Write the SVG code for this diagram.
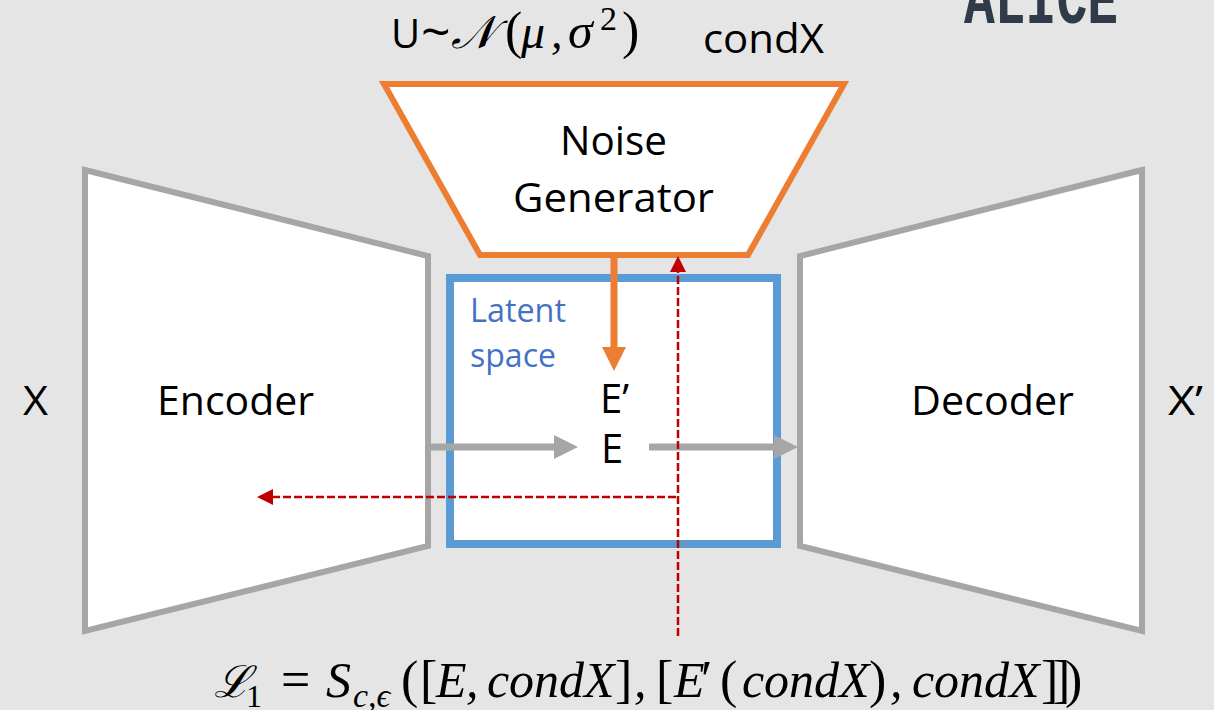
<svg xmlns="http://www.w3.org/2000/svg" width="1214" height="710" viewBox="0 0 1214 710">
<style>
.t{font-family:"Open Sans","Noto Sans",sans-serif;font-size:40px;fill:#000}
.m{font-family:"Liberation Serif","DejaVu Serif",serif;font-style:italic;fill:#000;font-size:50px}
.n{font-family:"Liberation Serif","DejaVu Serif",serif;font-style:normal;fill:#000;font-size:52px}
.b{font-family:"Open Sans","Noto Sans",sans-serif;font-size:32px;fill:#4472c4}
.g{fill:#fff;stroke:#a6a6a6;stroke-width:6}
.lg{stroke:#a6a6a6;stroke-width:7;fill:none}
.r{stroke:#c00000;stroke-width:2.5;stroke-dasharray:8 3;fill:none}
</style>
<defs>
<marker id="ag" markerUnits="userSpaceOnUse" markerWidth="24" markerHeight="24" refX="0" refY="12" orient="auto"><path d="M0 0L24 12L0 24Z" fill="#a6a6a6"/></marker>
<marker id="ao" markerUnits="userSpaceOnUse" markerWidth="24" markerHeight="24" refX="0" refY="12" orient="auto"><path d="M0 0L24 12L0 24Z" fill="#ed7d31"/></marker>
<marker id="ar" markerUnits="userSpaceOnUse" markerWidth="16" markerHeight="16" refX="0" refY="8" orient="auto"><path d="M0 0L16 8L0 16Z" fill="#c00000"/></marker>
</defs>
<rect width="1214" height="710" fill="#e5e5e5"/>
<text transform="translate(964 23) scale(1 1.4)" font-family="Liberation Mono,monospace" font-weight="700" font-size="51" fill="#2f3b48" textLength="154" lengthAdjust="spacingAndGlyphs">ALICE</text>
<g id="encoder"><path class="g" d="M85 170L428 256V546L85 631Z"/><text class="t" x="157" y="415" textLength="157" lengthAdjust="spacingAndGlyphs">Encoder</text></g>
<g id="decoder"><path class="g" d="M1142 170L800 256V546L1142 631Z"/><text class="t" x="911" y="415" textLength="163" lengthAdjust="spacingAndGlyphs">Decoder</text></g>
<g id="latent"><rect x="450" y="278" width="327" height="266" fill="#fff" stroke="#5b9bd5" stroke-width="8"/>
<text class="b" x="470" y="322" textLength="96" lengthAdjust="spacingAndGlyphs">Latent</text>
<text class="b" x="470" y="367" textLength="86" lengthAdjust="spacingAndGlyphs">space</text></g>
<g id="noise"><path d="M384 84H844L748 255H480Z" fill="#fff" stroke="#ed7d31" stroke-width="6"/>
<text class="t" x="560" y="155" textLength="107" lengthAdjust="spacingAndGlyphs">Noise</text><text class="t" x="513" y="212" textLength="201" lengthAdjust="spacingAndGlyphs">Generator</text></g>
<g id="connectors">
<path class="lg" d="M428 447H554" marker-end="url(#ag)"/>
<path class="lg" d="M649 447H774" marker-end="url(#ag)"/>
<path d="M614 257V347" stroke="#ed7d31" stroke-width="7" fill="none" marker-end="url(#ao)"/>
<path class="r" d="M678 636V272" marker-end="url(#ar)"/>
<path class="r" d="M676 497H273" marker-end="url(#ar)"/>
</g>
<g id="labels">
<text class="t" x="23" y="415" textLength="25" lengthAdjust="spacingAndGlyphs">X</text><text class="t" x="1168" y="415" textLength="35" lengthAdjust="spacingAndGlyphs">X’</text>
<text class="t" x="600" y="413">E’</text><text class="t" x="601" y="463">E</text>
<text class="t" x="703" y="53" textLength="121" lengthAdjust="spacingAndGlyphs">condX</text>
<text class="m" y="48"><tspan class="t" x="391" style="font-style:normal">U</tspan><tspan class="t" x="421" y="50" style="font-style:normal;font-size:52px">~</tspan><tspan x="451" y="48" style="font-size:46px">𝒩</tspan><tspan class="n" x="505">(</tspan><tspan x="521" style="font-size:48px">μ</tspan><tspan x="551" style="font-size:46px">,</tspan><tspan x="568" style="font-size:50px">σ</tspan><tspan class="n" x="600" y="30" style="font-size:34px">2</tspan><tspan class="n" x="622" y="48">)</tspan></text>
<text class="m" y="697" id="formula"><tspan x="214" style="font-size:44px">ℒ</tspan><tspan class="n" x="246" y="707" style="font-size:32px">1</tspan><tspan class="n" x="281" y="697">=</tspan><tspan x="326">S</tspan><tspan x="353" y="707" style="font-size:34px">c,ϵ</tspan><tspan class="n" x="401" y="697">(</tspan><tspan class="n" x="420">[</tspan><tspan x="436">E</tspan><tspan x="466">,</tspan><tspan x="487 509 534 559 584">condX</tspan><tspan class="n" x="615">]</tspan><tspan x="634">,</tspan><tspan class="n" x="656">[</tspan><tspan x="674">E</tspan><tspan class="n" x="701">′</tspan><tspan class="n" x="720">(</tspan><tspan x="742 764 789 814 839">condX</tspan><tspan class="n" x="869">)</tspan><tspan x="890">,</tspan><tspan x="912 934 959 984 1009">condX</tspan><tspan class="n" x="1041">]</tspan><tspan class="n" x="1053">]</tspan><tspan class="n" x="1065">)</tspan></text>
</g>
</svg>
